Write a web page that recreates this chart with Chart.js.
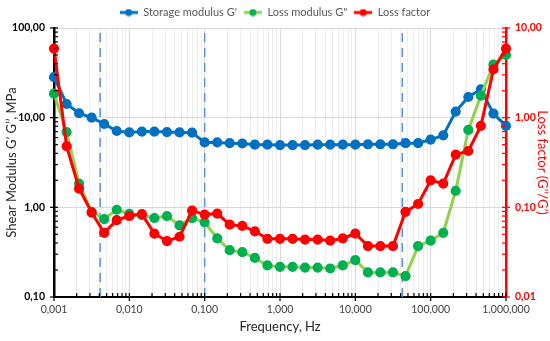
<!DOCTYPE html>
<html>
<head>
<meta charset="utf-8">
<script src="https://cdn.jsdelivr.net/npm/chart.js@4.4.1/dist/chart.umd.min.js"></script>
<style>
  body { margin: 0; background: #fff; }
  #wrap { width: 550px; height: 341px; }
</style>
</head>
<body>
<div id="wrap"><canvas id="grafico" width="550" height="341"></canvas></div>
<script>
// Frequências (Hz) - 6 pontos por década
const frequencias = [
    0.001, 0.00147, 0.00215, 0.00316, 0.00464, 0.00681,
    0.01, 0.0147, 0.0215, 0.0316, 0.0464, 0.0681,
    0.1, 0.147, 0.215, 0.316, 0.464, 0.681,
    1, 1.47, 2.15, 3.16, 4.64, 6.81,
    10, 14.7, 21.5, 31.6, 46.4, 68.1,
    100, 147, 215, 316, 464, 681,
    1000
];

// Módulo de armazenamento G' (MPa)
const storageModulus = [28.3, 14.2, 11.2, 10.0, 8.5, 7.1, 6.85, 7.0, 7.0, 6.9, 6.85, 6.8,
    5.3, 5.3, 5.2, 5.15, 5.0, 5.0, 4.95, 4.95, 4.95, 5.0, 5.0, 5.0, 5.0, 5.05, 5.05, 5.05,
    5.2, 5.2, 5.7, 6.35, 11.7, 17.0, 20.7, 11.1, 8.1];

// Módulo de perda G'' (MPa)
const lossModulus = [18.5, 6.9, 1.84, 0.89, 0.74, 0.94, 0.845, 0.82, 0.76, 0.80, 0.63, 0.76,
    0.68, 0.45, 0.333, 0.316, 0.273, 0.225, 0.217, 0.217, 0.213, 0.213, 0.208, 0.225, 0.258,
    0.188, 0.188, 0.188, 0.171, 0.37, 0.425, 0.52, 1.53, 7.3, 17.6, 39, 50];

// Fator de perda G''/G'
const lossFactor = [5.9, 0.48, 0.162, 0.0875, 0.052, 0.072, 0.080, 0.084, 0.051, 0.042, 0.047,
    0.092, 0.083, 0.085, 0.064, 0.062, 0.054, 0.0445, 0.0445, 0.0445, 0.0437, 0.0437, 0.0426,
    0.045, 0.051, 0.037, 0.037, 0.037, 0.089, 0.109, 0.20, 0.184, 0.387, 0.425, 0.81, 3.45, 5.9];

// Linhas verticais tracejadas (Hz)
const marcadores = [0.0041, 0.1, 42];

// Rótulos dos eixos
const xTickValues = [0.001, 0.01, 0.1, 1, 10, 100, 1000];
const xTickLabels = ['0,001', '0,010', '0,100', '1,000', '10,000', '100,000', '1.000,000'];
const yTickValues = [0.1, 1, 10, 100];
const yTickLabels = ['0,10', '1,00', '10,00', '100,00'];
const y2TickValues = [0.01, 0.1, 1, 10];
const y2TickLabels = ['0,01', '0,10', '1,00', '10,00'];

const seriesNames = ["Storage modulus G'", 'Loss modulus G"', 'Loss factor'];

function mesmoValor(a, b) {
    return Math.abs(Math.log10(a) - Math.log10(b)) < 1e-6;
}

function rotulo(values, labels) {
    return function (value) {
        const i = values.findIndex(v => mesmoValor(v, value));
        return i >= 0 ? labels[i] : '';
    };
}

// Marcador da legenda: linha com ponto
function iconeLegenda(lineColor, dotColor) {
    const c = document.createElement('canvas');
    c.width = 18; c.height = 8;
    const g = c.getContext('2d');
    g.strokeStyle = lineColor;
    g.lineWidth = 3;
    g.beginPath(); g.moveTo(0, 4); g.lineTo(18, 4); g.stroke();
    g.fillStyle = dotColor;
    g.beginPath(); g.arc(9, 4, 3.5, 0, Math.PI * 2); g.fill();
    return c;
}
const icones = [
    iconeLegenda('#0070C0', '#0070C0'),
    iconeLegenda('#92D050', '#00B050'),
    iconeLegenda('#FF0000', '#FF0000')
];

const toPoints = vals => vals.map((v, i) => ({ x: frequencias[i], y: v }));

const datasets = [{
    label: seriesNames[0],
    data: toPoints(storageModulus),
    yAxisID: 'y',
    borderColor: '#0070C0',
    backgroundColor: '#0070C0',
    borderWidth: 3,
    pointRadius: 3.6,
    clip: false,
    order: 3
}, {
    label: seriesNames[1],
    data: toPoints(lossModulus),
    yAxisID: 'y',
    borderColor: '#92D050',
    backgroundColor: '#00B050',
    pointBorderColor: '#00B050',
    borderWidth: 3,
    pointRadius: 3.6,
    clip: false,
    order: 2
}, {
    label: seriesNames[2],
    data: toPoints(lossFactor),
    yAxisID: 'y2',
    borderColor: '#FF0000',
    backgroundColor: '#FF0000',
    borderWidth: 3,
    pointRadius: 3.6,
    clip: false,
    order: 1
}];

marcadores.forEach(f => {
    datasets.push({
        label: 'marcador',
        data: [{ x: f, y: yTickValues[0] }, { x: f, y: yTickValues[yTickValues.length - 1] }],
        yAxisID: 'y',
        borderColor: '#5B8FD6',
        borderWidth: 1.5,
        borderDash: [9, 6],
        pointRadius: 0,
        order: 10
    });
});

// Ticks dos eixos (marcas maiores cruzando, menores para dentro)
const ticksEixos = {
    id: 'ticksEixos',
    afterDraw(chart) {
        const ctx = chart.ctx;
        const a = chart.chartArea;
        const sx = chart.scales.x, sy = chart.scales.y, sy2 = chart.scales.y2;
        ctx.save();
        ctx.lineWidth = 1.2;
        ctx.strokeStyle = '#000';
        sx.ticks.forEach(t => {
            const px = sx.getPixelForValue(t.value);
            const maior = xTickValues.some(v => mesmoValor(v, t.value));
            ctx.beginPath();
            ctx.moveTo(px, a.bottom + (maior ? 4 : 0));
            ctx.lineTo(px, a.bottom - 4);
            ctx.stroke();
        });
        const eixoY = (scale, values, x, dir, color) => {
            ctx.strokeStyle = color;
            values.forEach((v, k) => {
                const py = scale.getPixelForValue(v);
                ctx.beginPath();
                ctx.moveTo(x - 4 * dir, py);
                ctx.lineTo(x + 4 * dir, py);
                ctx.stroke();
                if (k === values.length - 1) return;
                for (let m = 2; m <= 9; m++) {
                    const pm = scale.getPixelForValue(v * m);
                    ctx.beginPath();
                    ctx.moveTo(x, pm);
                    ctx.lineTo(x + 4 * dir, pm);
                    ctx.stroke();
                }
            });
        };
        eixoY(sy, yTickValues, a.left, 1, '#000');
        eixoY(sy2, y2TickValues, a.right, -1, '#FF0000');
        ctx.restore();
    }
};

const ctx = document.getElementById('grafico').getContext('2d');
new Chart(ctx, {
    type: 'line',
    data: { datasets: datasets },
    plugins: [ticksEixos],
    options: {
        responsive: false,
        animation: false,
        layout: { padding: { top: 0, left: 0, right: 0, bottom: 0 } },
        plugins: {
            tooltip: { enabled: false },
            legend: {
                position: 'top',
                padding: 0,
                labels: {
                    usePointStyle: true,
                    pointStyleWidth: 18,
                    boxHeight: 8,
                    padding: 7,
                    color: '#595959',
                    font: { family: 'Lato', size: 11 },
                    generateLabels: chart => {
                        const itens = Chart.defaults.plugins.legend.labels.generateLabels(chart);
                        return itens
                            .filter(it => it.datasetIndex < seriesNames.length)
                            .sort((p, q) => p.datasetIndex - q.datasetIndex)
                            .map(it => Object.assign(it, { pointStyle: icones[it.datasetIndex] }));
                    }
                }
            }
        },
        scales: {
            x: {
                type: 'logarithmic',
                min: xTickValues[0],
                max: xTickValues[xTickValues.length - 1],
                afterBuildTicks: scale => {
                    const t = [];
                    xTickValues.forEach((v, i) => {
                        t.push({ value: v });
                        if (i < xTickValues.length - 1) {
                            for (let m = 2; m <= 9; m++) t.push({ value: v * m });
                        }
                    });
                    scale.ticks = t;
                },
                afterFit: scale => { scale.height = 44; },
                ticks: {
                    autoSkip: false,
                    maxRotation: 0,
                    padding: 6,
                    color: '#404040',
                    font: { family: 'Lato', size: 10.5 },
                    callback: rotulo(xTickValues, xTickLabels)
                },
                grid: {
                    drawTicks: false,
                    color: c => (c.tick && xTickValues.some(v => mesmoValor(v, c.tick.value))) ? '#d9d9d9' : '#ededed'
                },
                border: { color: '#000', width: 2 },
                title: {
                    display: true,
                    text: 'Frequency, Hz',
                    color: '#262626',
                    font: { family: 'Lato', size: 13 },
                    padding: { top: 0, bottom: 6 }
                }
            },
            y: {
                type: 'logarithmic',
                position: 'left',
                min: yTickValues[0],
                max: yTickValues[yTickValues.length - 1],
                afterBuildTicks: scale => { scale.ticks = yTickValues.map(v => ({ value: v })); },
                afterFit: scale => { scale.width = 54; },
                ticks: {
                    padding: 9,
                    color: '#000',
                    font: { family: 'Lato', size: 10.5, weight: 'bold' },
                    callback: rotulo(yTickValues, yTickLabels)
                },
                grid: { drawTicks: false, color: '#d9d9d9' },
                border: { color: '#000', width: 2.5 },
                title: {
                    display: true,
                    text: 'Shear Modulus G’ G’’, MPa',
                    color: '#262626',
                    font: { family: 'Lato', size: 13 },
                    padding: { top: 4, bottom: 4 }
                }
            },
            y2: {
                type: 'logarithmic',
                position: 'right',
                min: y2TickValues[0],
                max: y2TickValues[y2TickValues.length - 1],
                afterBuildTicks: scale => { scale.ticks = y2TickValues.map(v => ({ value: v })); },
                afterFit: scale => { scale.width = 44; },
                ticks: {
                    padding: 9,
                    color: '#FF0000',
                    font: { family: 'Lato', size: 10.5, weight: 'bold' },
                    callback: rotulo(y2TickValues, y2TickLabels)
                },
                grid: { drawOnChartArea: false, drawTicks: false },
                border: { color: '#FF0000', width: 2.5 },
                title: {
                    display: true,
                    text: 'Loss factor (G’’/G’)',
                    color: '#FF0000',
                    font: { family: 'Lato', size: 13 },
                    padding: { top: 0, bottom: 3 }
                }
            }
        }
    }
});
</script>
</body>
</html>
